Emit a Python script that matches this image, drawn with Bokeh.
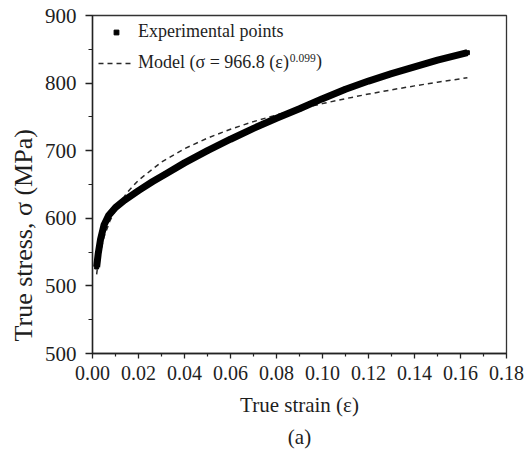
import math
from bokeh.plotting import figure
from bokeh.models import (ColumnDataSource, FixedTicker, Legend, LegendItem, Label, Range1d, Title)
from bokeh.embed import file_html
from bokeh.resources import INLINE

# ---- data ----
exp_strain = [0.0018, 0.0025, 0.0035, 0.005, 0.007, 0.010, 0.014, 0.020, 0.026, 0.032,
              0.040, 0.050, 0.060, 0.070, 0.080, 0.090, 0.100, 0.110, 0.120, 0.130,
              0.140, 0.150, 0.163]
exp_stress = [528, 548, 569, 590, 604, 616, 627, 641, 654, 666,
              682, 700, 717, 733, 748, 762, 777, 791, 803, 814,
              824, 834, 845]

model_strain = [0.0018, 0.002, 0.003, 0.005, 0.0075, 0.010, 0.015, 0.020, 0.030, 0.040,
                0.050, 0.060, 0.070, 0.080, 0.090, 0.100, 0.110, 0.120, 0.130, 0.140,
                0.150, 0.163]
model_stress = [517, 522.6, 544.0, 572.3, 595.6, 612.9, 637.9, 656.4, 683.2, 703.0,
                718.7, 731.8, 743.0, 752.9, 761.7, 769.7, 777.0, 783.8, 790.0, 795.9,
                801.3, 807.9]

x_ticks = [0.00, 0.02, 0.04, 0.06, 0.08, 0.10, 0.12, 0.14, 0.16, 0.18]
x_tick_labels = ["0.00", "0.02", "0.04", "0.06", "0.08", "0.10", "0.12", "0.14", "0.16", "0.18"]
x_minor = [0.01, 0.03, 0.05, 0.07, 0.09, 0.11, 0.13, 0.15, 0.17]
y_ticks = [400, 500, 600, 700, 800, 900]
y_tick_labels = ["500", "500", "600", "700", "800", "900"]
y_minor = [450, 550, 650, 750, 850]

x_label = "True strain (\u03b5)"
y_label = "True stress, \u03c3 (MPa)"
legend_exp = "Experimental points"
legend_model = "Model (\u03c3 = 966.8 (\u03b5)"
model_exp_text = "0.099"
caption = "(a)"

FONT = "Liberation Serif"
INK = "#1e1e1e"

p = figure(width=524, height=453,
           min_border_left=92, min_border_right=18, min_border_top=15, min_border_bottom=100,
           x_range=Range1d(0, 0.18), y_range=Range1d(400, 900),
           output_backend="svg", toolbar_location=None,
           background_fill_color="white", border_fill_color="white")

p.grid.visible = False
p.outline_line_color = "#333333"
p.outline_line_width = 1.3

# x axis
xa = p.xaxis[0]
xa.ticker = FixedTicker(ticks=x_ticks, minor_ticks=x_minor)
xa.major_label_overrides = {t: s for t, s in zip(x_ticks, x_tick_labels)}
xa.axis_label = x_label
# y axis
ya = p.yaxis[0]
ya.ticker = FixedTicker(ticks=y_ticks, minor_ticks=y_minor)
ya.major_label_overrides = {t: s for t, s in zip(y_ticks, y_tick_labels)}

for ax in (xa, ya):
    ax.axis_line_color = "#222222"
    ax.axis_line_width = 1.4
    ax.major_tick_line_color = "#222222"
    ax.minor_tick_line_color = "#222222"
    ax.major_tick_line_width = 1.3
    ax.minor_tick_line_width = 1.2
    ax.major_tick_in = 0
    ax.minor_tick_in = 0
    ax.major_label_text_font = FONT
    ax.major_label_text_color = INK
    ax.axis_label_text_font = FONT
    ax.axis_label_text_font_style = "normal"
    ax.axis_label_text_font_size = "21px"
    ax.axis_label_text_color = INK

xa.major_label_text_font_size = "20px"
ya.major_label_text_font_size = "21px"
xa.major_tick_out = 5
xa.minor_tick_out = 3
xa.major_label_standoff = 7
xa.axis_label_standoff = 10
ya.major_tick_out = 7
ya.minor_tick_out = 4
ya.major_label_standoff = 9

# y axis title, starting near the bottom of the frame like the reference
p.add_layout(Title(text=y_label, align="left", offset=12, standoff=8,
                   text_font=FONT, text_font_size="26px", text_font_style="normal",
                   text_color=INK), "left")
# caption below
p.add_layout(Title(text=caption, align="center", standoff=6,
                   text_font=FONT, text_font_size="21px", text_font_style="normal",
                   text_color=INK), "below")

# data
exp_src = ColumnDataSource(dict(x=exp_strain, y=exp_stress))
mod_src = ColumnDataSource(dict(x=model_strain, y=model_stress))

model_r = p.line("x", "y", source=mod_src, line_color="#2a2a2a", line_width=1.5,
                 line_dash="5 4")
# experimental points (small squares) joined into the thick trace
sq = p.scatter("x", "y", source=exp_src, marker="square", size=4, color="black")
p.line("x", "y", source=exp_src, line_color="black", line_width=7, line_cap="butt",
       line_join="round")

legend = Legend(items=[LegendItem(label=legend_exp, renderers=[sq]),
                       LegendItem(label=legend_model, renderers=[model_r])],
                location="top_left", margin=0, padding=6, spacing=10,
                glyph_width=36, glyph_height=12, label_height=20, label_standoff=4,
                label_text_font=FONT, label_text_font_size="18px", label_text_color=INK,
                background_fill_alpha=0, border_line_alpha=0)
p.add_layout(legend)

p.add_layout(Label(x=0.0858, y=836.4, text=model_exp_text, text_font=FONT,
                   text_font_size="11.5px", text_color=INK, text_baseline="middle",
                   text_align="left"))
p.add_layout(Label(x=0.0972, y=832.0, text=")", text_font=FONT,
                   text_font_size="18px", text_color=INK, text_baseline="middle",
                   text_align="left"))

open("out.html", "w").write(file_html(p, INLINE))
